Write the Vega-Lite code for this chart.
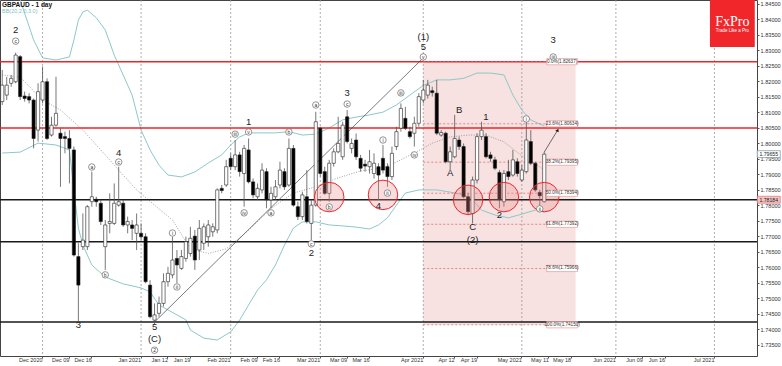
{
"$schema":"https://vega.github.io/schema/vega-lite/v6.json",
"width":757,"height":356,
"autosize":{"type":"none"},
"padding":{"left":0,"top":0,"right":25,"bottom":10},
"background":"white",
"title":{"text":"GBPAUD - 1 day","subtitle":"BB(20,2.0,3.0)","anchor":"start","frame":"group","orient":"top","offset":-15,"dx":2,"fontSize":6.5,"fontWeight":"bold","font":"Liberation Sans","color":"#111","subtitleFontSize":5.5,"subtitleColor":"#7fbfbf","subtitleFont":"Liberation Sans","subtitlePadding":1},
"config":{"view":{"stroke":"#444","strokeWidth":1},"font":"Liberation Sans","scale":{"bandPaddingInner":0,"bandPaddingOuter":0,"barBandPaddingInner":0,"rectBandPaddingInner":0},
 "axisY":{"labelOverlap":false,"labelBound":false,"labelFlush":false}},
"data":{"values":[{}]},
"datasets":{
"candles":[
{"d":"2020-11-18","o":1.8135,"h":1.8237,"l":1.8124,"c":1.8188},
{"d":"2020-11-19","o":1.8156,"h":1.8215,"l":1.8140,"c":1.8188},
{"d":"2020-11-20","o":1.8194,"h":1.8221,"l":1.8183,"c":1.8210},
{"d":"2020-11-23","o":1.8199,"h":1.8293,"l":1.8194,"c":1.8285},
{"d":"2020-11-24","o":1.8280,"h":1.8285,"l":1.8140,"c":1.8151},
{"d":"2020-11-25","o":1.8153,"h":1.8167,"l":1.8135,"c":1.8145},
{"d":"2020-11-26","o":1.8151,"h":1.8162,"l":1.8129,"c":1.8140},
{"d":"2020-11-27","o":1.8140,"h":1.8145,"l":1.7984,"c":1.8016},
{"d":"2020-11-30","o":1.8043,"h":1.8194,"l":1.8006,"c":1.8167},
{"d":"2020-12-01","o":1.8140,"h":1.8248,"l":1.8129,"c":1.8199},
{"d":"2020-12-02","o":1.8199,"h":1.8210,"l":1.8011,"c":1.8016},
{"d":"2020-12-03","o":1.8027,"h":1.8086,"l":1.8022,"c":1.8059},
{"d":"2020-12-04","o":1.8059,"h":1.8215,"l":1.8054,"c":1.8097},
{"d":"2020-12-07","o":1.8033,"h":1.8049,"l":1.7860,"c":1.8016},
{"d":"2020-12-08","o":1.8022,"h":1.8038,"l":1.7968,"c":1.8016},
{"d":"2020-12-09","o":1.8016,"h":1.8043,"l":1.7871,"c":1.7984},
{"d":"2020-12-10","o":1.7979,"h":1.7990,"l":1.7635,"c":1.7640},
{"d":"2020-12-11","o":1.7635,"h":1.7678,"l":1.7425,"c":1.7543},
{"d":"2020-12-14","o":1.7667,"h":1.7774,"l":1.7656,"c":1.7688},
{"d":"2020-12-15","o":1.7667,"h":1.7801,"l":1.7656,"c":1.7796},
{"d":"2020-12-16","o":1.7812,"h":1.7909,"l":1.7796,"c":1.7828},
{"d":"2020-12-17","o":1.7820,"h":1.7828,"l":1.7796,"c":1.7812},
{"d":"2020-12-18","o":1.7807,"h":1.7818,"l":1.7737,"c":1.7748},
{"d":"2020-12-21","o":1.7667,"h":1.7753,"l":1.7592,"c":1.7737},
{"d":"2020-12-22","o":1.7742,"h":1.7839,"l":1.7710,"c":1.7748},
{"d":"2020-12-23","o":1.7742,"h":1.7871,"l":1.7737,"c":1.7807},
{"d":"2020-12-24","o":1.7801,"h":1.7925,"l":1.7796,"c":1.7812},
{"d":"2020-12-28","o":1.7807,"h":1.7818,"l":1.7731,"c":1.7737},
{"d":"2020-12-29","o":1.7737,"h":1.7764,"l":1.7710,"c":1.7748},
{"d":"2020-12-30","o":1.7737,"h":1.7753,"l":1.7688,"c":1.7726},
{"d":"2020-12-31","o":1.7710,"h":1.7774,"l":1.7656,"c":1.7737},
{"d":"2021-01-04","o":1.7710,"h":1.7742,"l":1.7688,"c":1.7699},
{"d":"2021-01-05","o":1.7699,"h":1.7710,"l":1.7549,"c":1.7554},
{"d":"2021-01-06","o":1.7543,"h":1.7559,"l":1.7436,"c":1.7441},
{"d":"2021-01-07","o":1.7430,"h":1.7484,"l":1.7415,"c":1.7447},
{"d":"2021-01-08","o":1.7452,"h":1.7506,"l":1.7441,"c":1.7484},
{"d":"2021-01-11","o":1.7484,"h":1.7581,"l":1.7474,"c":1.7554},
{"d":"2021-01-12","o":1.7554,"h":1.7602,"l":1.7538,"c":1.7581},
{"d":"2021-01-13","o":1.7576,"h":1.7699,"l":1.7565,"c":1.7624},
{"d":"2021-01-14","o":1.7629,"h":1.7656,"l":1.7549,"c":1.7608},
{"d":"2021-01-15","o":1.7597,"h":1.7656,"l":1.7592,"c":1.7635},
{"d":"2021-01-18","o":1.7629,"h":1.7699,"l":1.7619,"c":1.7683},
{"d":"2021-01-19","o":1.7645,"h":1.7731,"l":1.7635,"c":1.7694},
{"d":"2021-01-20","o":1.7701,"h":1.7721,"l":1.7592,"c":1.7624},
{"d":"2021-01-21","o":1.7656,"h":1.7753,"l":1.7624,"c":1.7726},
{"d":"2021-01-22","o":1.7678,"h":1.7742,"l":1.7656,"c":1.7731},
{"d":"2021-01-25","o":1.7699,"h":1.7753,"l":1.7667,"c":1.7737},
{"d":"2021-01-26","o":1.7715,"h":1.7742,"l":1.7699,"c":1.7731},
{"d":"2021-01-27","o":1.7721,"h":1.7855,"l":1.7710,"c":1.7850},
{"d":"2021-01-28","o":1.7855,"h":1.7866,"l":1.7839,"c":1.7848},
{"d":"2021-01-29","o":1.7866,"h":1.7947,"l":1.7860,"c":1.7925},
{"d":"2021-02-01","o":1.7952,"h":1.7968,"l":1.7914,"c":1.7925},
{"d":"2021-02-02","o":1.7925,"h":1.8011,"l":1.7914,"c":1.7963},
{"d":"2021-02-03","o":1.7963,"h":1.7973,"l":1.7893,"c":1.7909},
{"d":"2021-02-04","o":1.7903,"h":1.7995,"l":1.7796,"c":1.7984},
{"d":"2021-02-05","o":1.7979,"h":1.8016,"l":1.7871,"c":1.7876},
{"d":"2021-02-08","o":1.7876,"h":1.7887,"l":1.7823,"c":1.7834},
{"d":"2021-02-09","o":1.7828,"h":1.7871,"l":1.7818,"c":1.7855},
{"d":"2021-02-10","o":1.7850,"h":1.7936,"l":1.7839,"c":1.7914},
{"d":"2021-02-11","o":1.7909,"h":1.7920,"l":1.7791,"c":1.7818},
{"d":"2021-02-12","o":1.7818,"h":1.7860,"l":1.7791,"c":1.7839},
{"d":"2021-02-15","o":1.7828,"h":1.7882,"l":1.7818,"c":1.7860},
{"d":"2021-02-16","o":1.7866,"h":1.7941,"l":1.7855,"c":1.7914},
{"d":"2021-02-17","o":1.7909,"h":1.7920,"l":1.7850,"c":1.7860},
{"d":"2021-02-18","o":1.7866,"h":1.8016,"l":1.7860,"c":1.7984},
{"d":"2021-02-19","o":1.7984,"h":1.7995,"l":1.7796,"c":1.7801},
{"d":"2021-02-22","o":1.7796,"h":1.7812,"l":1.7753,"c":1.7764},
{"d":"2021-02-23","o":1.7764,"h":1.7844,"l":1.7753,"c":1.7834},
{"d":"2021-02-24","o":1.7828,"h":1.7914,"l":1.7742,"c":1.7748},
{"d":"2021-02-25","o":1.7742,"h":1.7818,"l":1.7688,"c":1.7801},
{"d":"2021-02-26","o":1.7801,"h":1.8102,"l":1.7796,"c":1.8070},
{"d":"2021-03-01","o":1.8049,"h":1.8054,"l":1.7893,"c":1.7903},
{"d":"2021-03-02","o":1.7909,"h":1.7925,"l":1.7834,"c":1.7839},
{"d":"2021-03-03","o":1.7839,"h":1.7947,"l":1.7812,"c":1.7936},
{"d":"2021-03-04","o":1.7936,"h":1.7984,"l":1.7925,"c":1.7973},
{"d":"2021-03-05","o":1.7973,"h":1.8086,"l":1.7968,"c":1.8000},
{"d":"2021-03-08","o":1.7957,"h":1.8070,"l":1.7947,"c":1.8059},
{"d":"2021-03-09","o":1.8086,"h":1.8108,"l":1.8000,"c":1.8006},
{"d":"2021-03-10","o":1.7984,"h":1.8016,"l":1.7968,"c":1.8000},
{"d":"2021-03-11","o":1.8011,"h":1.8032,"l":1.7947,"c":1.7957},
{"d":"2021-03-12","o":1.7952,"h":1.7963,"l":1.7909,"c":1.7920},
{"d":"2021-03-15","o":1.7933,"h":1.7947,"l":1.7909,"c":1.7927},
{"d":"2021-03-16","o":1.7925,"h":1.7979,"l":1.7903,"c":1.7941},
{"d":"2021-03-17","o":1.7903,"h":1.7968,"l":1.7887,"c":1.7936},
{"d":"2021-03-18","o":1.7925,"h":1.7936,"l":1.7818,"c":1.7898},
{"d":"2021-03-19","o":1.7952,"h":1.7995,"l":1.7903,"c":1.7914},
{"d":"2021-03-22","o":1.7925,"h":1.7936,"l":1.7860,"c":1.7893},
{"d":"2021-03-23","o":1.7893,"h":1.7990,"l":1.7882,"c":1.7968},
{"d":"2021-03-24","o":1.7990,"h":1.8054,"l":1.7979,"c":1.8038},
{"d":"2021-03-25","o":1.8049,"h":1.8129,"l":1.8038,"c":1.8113},
{"d":"2021-03-26","o":1.8081,"h":1.8118,"l":1.8043,"c":1.8049},
{"d":"2021-03-29","o":1.8038,"h":1.8054,"l":1.8016,"c":1.8022},
{"d":"2021-03-30","o":1.8033,"h":1.8086,"l":1.7990,"c":1.8065},
{"d":"2021-03-31","o":1.8065,"h":1.8162,"l":1.8054,"c":1.8151},
{"d":"2021-04-01","o":1.8140,"h":1.8205,"l":1.8129,"c":1.8172},
{"d":"2021-04-02","o":1.8156,"h":1.8205,"l":1.8145,"c":1.8188},
{"d":"2021-04-05","o":1.8170,"h":1.8183,"l":1.8151,"c":1.8164},
{"d":"2021-04-06","o":1.8162,"h":1.8205,"l":1.8027,"c":1.8033},
{"d":"2021-04-07","o":1.8027,"h":1.8043,"l":1.8022,"c":1.8035},
{"d":"2021-04-08","o":1.8033,"h":1.8038,"l":1.7936,"c":1.7941},
{"d":"2021-04-09","o":1.7941,"h":1.7990,"l":1.7914,"c":1.7973},
{"d":"2021-04-12","o":1.7957,"h":1.8092,"l":1.7952,"c":1.8016},
{"d":"2021-04-13","o":1.8011,"h":1.8022,"l":1.7979,"c":1.7990},
{"d":"2021-04-14","o":1.7990,"h":1.8000,"l":1.7823,"c":1.7828},
{"d":"2021-04-15","o":1.7828,"h":1.7839,"l":1.7769,"c":1.7780},
{"d":"2021-04-16","o":1.7774,"h":1.7893,"l":1.7742,"c":1.7882},
{"d":"2021-04-19","o":1.7882,"h":1.8033,"l":1.7871,"c":1.8022},
{"d":"2021-04-20","o":1.8022,"h":1.8070,"l":1.8011,"c":1.8043},
{"d":"2021-04-21","o":1.8022,"h":1.8033,"l":1.7952,"c":1.7957},
{"d":"2021-04-22","o":1.7963,"h":1.7973,"l":1.7941,"c":1.7952},
{"d":"2021-04-23","o":1.7947,"h":1.7957,"l":1.7914,"c":1.7920},
{"d":"2021-04-26","o":1.7906,"h":1.7914,"l":1.7791,"c":1.7818},
{"d":"2021-04-27","o":1.7812,"h":1.7914,"l":1.7796,"c":1.7903},
{"d":"2021-04-28","o":1.7909,"h":1.7947,"l":1.7882,"c":1.7893},
{"d":"2021-04-29","o":1.7898,"h":1.7979,"l":1.7893,"c":1.7947},
{"d":"2021-04-30","o":1.7941,"h":1.7952,"l":1.7893,"c":1.7903},
{"d":"2021-05-03","o":1.7882,"h":1.7930,"l":1.7876,"c":1.7914},
{"d":"2021-05-04","o":1.7909,"h":1.8076,"l":1.7903,"c":1.8011},
{"d":"2021-05-05","o":1.8006,"h":1.8043,"l":1.7930,"c":1.7936},
{"d":"2021-05-06","o":1.7936,"h":1.7941,"l":1.7844,"c":1.7850},
{"d":"2021-05-07","o":1.7842,"h":1.7850,"l":1.7791,"c":1.7831},
{"d":"2021-05-10","o":1.7812,"h":1.7973,"l":1.7809,"c":1.79655}
],
"bbu":[
{"d":"2020-11-18","v":1.8511},{"d":"2020-11-24","v":1.8463},{"d":"2020-11-27","v":1.8334},{"d":"2020-12-01","v":1.8276},{"d":"2020-12-04","v":1.8269},{"d":"2020-12-09","v":1.8279},{"d":"2020-12-10","v":1.8334},{"d":"2020-12-11","v":1.8398},{"d":"2020-12-14","v":1.8424},{"d":"2020-12-15","v":1.8430},{"d":"2020-12-17","v":1.8405},{"d":"2020-12-21","v":1.8366},{"d":"2020-12-23","v":1.8285},{"d":"2020-12-28","v":1.8221},{"d":"2020-12-30","v":1.8156},{"d":"2021-01-04","v":1.8043},{"d":"2021-01-06","v":1.7979},{"d":"2021-01-08","v":1.7930},{"d":"2021-01-12","v":1.7898},{"d":"2021-01-15","v":1.7892},{"d":"2021-01-20","v":1.7908},{"d":"2021-01-25","v":1.7937},{"d":"2021-01-28","v":1.7963},{"d":"2021-02-01","v":1.7995},{"d":"2021-02-03","v":1.8021},{"d":"2021-02-05","v":1.8034},{"d":"2021-02-10","v":1.8034},{"d":"2021-02-15","v":1.8034},{"d":"2021-02-18","v":1.8038},{"d":"2021-02-23","v":1.8027},{"d":"2021-02-26","v":1.8030},{"d":"2021-03-03","v":1.8050},{"d":"2021-03-08","v":1.8076},{"d":"2021-03-11","v":1.8085},{"d":"2021-03-16","v":1.8092},{"d":"2021-03-19","v":1.8101},{"d":"2021-03-24","v":1.8124},{"d":"2021-03-29","v":1.8156},{"d":"2021-04-01","v":1.8187},{"d":"2021-04-06","v":1.8205},{"d":"2021-04-09","v":1.8205},{"d":"2021-04-14","v":1.8210},{"d":"2021-04-19","v":1.8227},{"d":"2021-04-22","v":1.8227},{"d":"2021-04-27","v":1.8221},{"d":"2021-04-29","v":1.8156},{"d":"2021-05-03","v":1.8108},{"d":"2021-05-05","v":1.8076},{"d":"2021-05-10","v":1.8056}
],
"bbm":[
{"d":"2020-11-18","v":1.8221},{"d":"2020-11-24","v":1.8214},{"d":"2020-12-01","v":1.8140},{"d":"2020-12-07","v":1.8108},{"d":"2020-12-14","v":1.8043},{"d":"2020-12-18","v":1.7979},{"d":"2020-12-24","v":1.7914},{"d":"2020-12-31","v":1.7850},{"d":"2021-01-07","v":1.7801},{"d":"2021-01-13","v":1.7753},{"d":"2021-01-19","v":1.7660},{"d":"2021-01-25","v":1.7645},{"d":"2021-01-29","v":1.7660},{"d":"2021-02-05","v":1.7720},{"d":"2021-02-12","v":1.7790},{"d":"2021-02-19","v":1.7840},{"d":"2021-02-26","v":1.7860},{"d":"2021-03-05","v":1.7889},{"d":"2021-03-12","v":1.7911},{"d":"2021-03-19","v":1.7921},{"d":"2021-03-24","v":1.7940},{"d":"2021-03-30","v":1.7969},{"d":"2021-04-05","v":1.8001},{"d":"2021-04-09","v":1.8021},{"d":"2021-04-15","v":1.8027},{"d":"2021-04-21","v":1.8027},{"d":"2021-04-27","v":1.8005},{"d":"2021-05-03","v":1.7960},{"d":"2021-05-06","v":1.7935},{"d":"2021-05-10","v":1.7914}
],
"bbl":[
{"d":"2020-11-18","v":1.7969},{"d":"2020-11-24","v":1.7972},{"d":"2020-11-30","v":1.8001},{"d":"2020-12-04","v":1.7995},{"d":"2020-12-09","v":1.7979},{"d":"2020-12-10","v":1.7850},{"d":"2020-12-11","v":1.7727},{"d":"2020-12-14","v":1.7672},{"d":"2020-12-16","v":1.7608},{"d":"2020-12-21","v":1.7569},{"d":"2020-12-28","v":1.7547},{"d":"2021-01-04","v":1.7534},{"d":"2021-01-06","v":1.7521},{"d":"2021-01-08","v":1.7479},{"d":"2021-01-12","v":1.7463},{"d":"2021-01-18","v":1.7431},{"d":"2021-01-19","v":1.7398},{"d":"2021-01-22","v":1.7372},{"d":"2021-01-27","v":1.7366},{"d":"2021-02-01","v":1.7392},{"d":"2021-02-03","v":1.7430},{"d":"2021-02-05","v":1.7479},{"d":"2021-02-09","v":1.7527},{"d":"2021-02-11","v":1.7560},{"d":"2021-02-15","v":1.7608},{"d":"2021-02-17","v":1.7672},{"d":"2021-02-19","v":1.7727},{"d":"2021-02-23","v":1.7747},{"d":"2021-02-26","v":1.7747},{"d":"2021-03-03","v":1.7737},{"d":"2021-03-08","v":1.7734},{"d":"2021-03-11","v":1.7730},{"d":"2021-03-16","v":1.7724},{"d":"2021-03-18","v":1.7737},{"d":"2021-03-22","v":1.7760},{"d":"2021-03-24","v":1.7801},{"d":"2021-03-26","v":1.7840},{"d":"2021-03-31","v":1.7850},{"d":"2021-04-06","v":1.7850},{"d":"2021-04-09","v":1.7843},{"d":"2021-04-14","v":1.7834},{"d":"2021-04-16","v":1.7818},{"d":"2021-04-20","v":1.7785},{"d":"2021-04-23","v":1.7769},{"d":"2021-04-28","v":1.7760},{"d":"2021-05-03","v":1.7772},{"d":"2021-05-06","v":1.7785},{"d":"2021-05-10","v":1.7779}
],
"months":[{"d":"2020-12-01"},{"d":"2021-01-04"},{"d":"2021-02-01"},{"d":"2021-03-01"},{"d":"2021-04-01"},{"d":"2021-05-03"},{"d":"2021-06-01"},{"d":"2021-07-01"}],
"levels":[{"v":1.82637,"k":"resistance"},{"v":1.8050,"k":"resistance"},{"v":1.78184,"k":"support"},{"v":1.7683,"k":"support"},{"v":1.7424,"k":"support"}],
"fib":[{"v":1.82637,"t":"0.0%(1.82637)"},{"v":1.80634,"t":"23.6%(1.80634)"},{"v":1.79395,"t":"38.2%(1.79395)"},{"v":1.78394,"t":"50.0%(1.78394)"},{"v":1.77392,"t":"61.8%(1.77392)"},{"v":1.75966,"t":"78.6%(1.75966)"},{"v":1.74150,"t":"100.0%(1.74150)"}],
"trend":[{"d":"2021-01-07","v":1.7424},{"d":"2021-04-01","v":1.8276}],
"arrow":[{"d":"2021-05-10","v":1.7972},{"d":"2021-05-13","v":1.8043}],
"hl":[{"d":"2021-03-03","v":1.7827},{"d":"2021-03-19","v":1.7834},{"d":"2021-04-15","v":1.7818},{"d":"2021-04-27","v":1.7827},{"d":"2021-05-10","v":1.7827}],
"waves":[
{"d":"2020-11-23","v":1.8366,"t":"2"},{"d":"2020-12-24","v":1.7969,"t":"4"},{"d":"2020-12-11","v":1.7414,"t":"3"},{"d":"2021-01-07","v":1.7408,"t":"5"},{"d":"2021-01-07","v":1.7369,"t":"(C)"},{"d":"2021-02-05","v":1.8069,"t":"1"},{"d":"2021-02-25","v":1.7647,"t":"2"},{"d":"2021-03-09","v":1.8163,"t":"3"},{"d":"2021-03-18","v":1.7798,"t":"4"},{"d":"2021-04-01","v":1.8343,"t":"(1)"},{"d":"2021-04-01","v":1.8311,"t":"5"},{"d":"2021-04-13","v":1.8108,"t":"B"},{"d":"2021-04-09","v":1.7905,"t":"A"},{"d":"2021-04-21","v":1.8085,"t":"1"},{"d":"2021-04-16","v":1.7730,"t":"C"},{"d":"2021-04-16","v":1.7690,"t":"(2)"},{"d":"2021-04-26","v":1.7769,"t":"2"},{"d":"2021-05-12","v":1.8334,"t":"3"}
],
"circ":[
{"d":"2020-11-23","v":1.8330,"t":"c"},{"d":"2020-12-16","v":1.7924,"t":"a"},{"d":"2020-12-21","v":1.7576,"t":"b"},{"d":"2020-12-24","v":1.7940,"t":"c"},{"d":"2021-01-13","v":1.7711,"t":"i"},{"d":"2021-01-14","v":1.7537,"t":"ii"},{"d":"2021-02-02","v":1.8030,"t":"iii"},{"d":"2021-02-04","v":1.7776,"t":"iv"},{"d":"2021-02-05","v":1.8037,"t":"v"},{"d":"2021-02-12","v":1.7776,"t":"a"},{"d":"2021-02-18","v":1.8037,"t":"b"},{"d":"2021-02-25","v":1.7676,"t":"c"},{"d":"2021-02-26","v":1.8124,"t":"a"},{"d":"2021-03-03","v":1.7795,"t":"b"},{"d":"2021-03-09","v":1.8127,"t":"c"},{"d":"2021-03-19","v":1.8011,"t":"i"},{"d":"2021-03-22","v":1.7840,"t":"ii"},{"d":"2021-03-25","v":1.8163,"t":"iii"},{"d":"2021-03-30","v":1.7963,"t":"iv"},{"d":"2021-04-01","v":1.8279,"t":"v"},{"d":"2021-05-04","v":1.8079,"t":"i"},{"d":"2021-05-07","v":1.7789,"t":"ii"},{"d":"2021-05-12","v":1.8279,"t":"iii"},{"d":"2021-01-07","v":1.7333,"t":"2"}
],
"tags":[{"v":1.79655,"t":"1.79655","k":"bid"},{"v":1.78184,"t":"1.78184","k":"level"}]
},
"layer":[
{"mark":{"type":"rect","color":"#f5d9d9","opacity":0.8},
 "encoding":{
  "x":{"datum":"2021-04-01","type":"ordinal","bandPosition":0.5},
  "x2":{"datum":"2021-05-19"},
  "y":{"datum":1.82637,"type":"quantitative","scale":{"domain":[1.73143,1.84627],"nice":false,"zero":false},
   "axis":{"orient":"right","title":null,"grid":false,"domain":false,"format":".5f","labelFontSize":5.6,"labelColor":"#333","tickSize":2,"tickColor":"#555","labelPadding":1,"labelFont":"Liberation Sans","labelOverlap":false,"labelBound":false,"labelFlush":false,"tickCount":23,
    "values":[1.735,1.74,1.745,1.75,1.755,1.76,1.765,1.77,1.775,1.78,1.785,1.79,1.795,1.8,1.805,1.81,1.815,1.82,1.825,1.83,1.835,1.84,1.845]}},
  "y2":{"datum":1.7415}}},
{"data":{"name":"months"},"mark":{"type":"rule","color":"#9a9a9a","strokeDash":[2,2],"strokeWidth":0.8},
 "encoding":{"x":{"field":"d","type":"ordinal","scale":{"type":"band","domain":["2020-11-18","2020-11-19","2020-11-20","2020-11-23","2020-11-24","2020-11-25","2020-11-26","2020-11-27","2020-11-30","2020-12-01","2020-12-02","2020-12-03","2020-12-04","2020-12-07","2020-12-08","2020-12-09","2020-12-10","2020-12-11","2020-12-14","2020-12-15","2020-12-16","2020-12-17","2020-12-18","2020-12-21","2020-12-22","2020-12-23","2020-12-24","2020-12-28","2020-12-29","2020-12-30","2020-12-31","2021-01-04","2021-01-05","2021-01-06","2021-01-07","2021-01-08","2021-01-11","2021-01-12","2021-01-13","2021-01-14","2021-01-15","2021-01-18","2021-01-19","2021-01-20","2021-01-21","2021-01-22","2021-01-25","2021-01-26","2021-01-27","2021-01-28","2021-01-29","2021-02-01","2021-02-02","2021-02-03","2021-02-04","2021-02-05","2021-02-08","2021-02-09","2021-02-10","2021-02-11","2021-02-12","2021-02-15","2021-02-16","2021-02-17","2021-02-18","2021-02-19","2021-02-22","2021-02-23","2021-02-24","2021-02-25","2021-02-26","2021-03-01","2021-03-02","2021-03-03","2021-03-04","2021-03-05","2021-03-08","2021-03-09","2021-03-10","2021-03-11","2021-03-12","2021-03-15","2021-03-16","2021-03-17","2021-03-18","2021-03-19","2021-03-22","2021-03-23","2021-03-24","2021-03-25","2021-03-26","2021-03-29","2021-03-30","2021-03-31","2021-04-01","2021-04-02","2021-04-05","2021-04-06","2021-04-07","2021-04-08","2021-04-09","2021-04-12","2021-04-13","2021-04-14","2021-04-15","2021-04-16","2021-04-19","2021-04-20","2021-04-21","2021-04-22","2021-04-23","2021-04-26","2021-04-27","2021-04-28","2021-04-29","2021-04-30","2021-05-03","2021-05-04","2021-05-05","2021-05-06","2021-05-07","2021-05-10","2021-05-11","2021-05-12","2021-05-13","2021-05-14","2021-05-17","2021-05-18","2021-05-19","2021-05-20","2021-05-21","2021-05-24","2021-05-25","2021-05-26","2021-05-27","2021-05-28","2021-05-31","2021-06-01","2021-06-02","2021-06-03","2021-06-04","2021-06-07","2021-06-08","2021-06-09","2021-06-10","2021-06-11","2021-06-14","2021-06-15","2021-06-16","2021-06-17","2021-06-18","2021-06-21","2021-06-22","2021-06-23","2021-06-24","2021-06-25","2021-06-28","2021-06-29","2021-06-30","2021-07-01","2021-07-02","2021-07-05","2021-07-06","2021-07-07","2021-07-08","2021-07-09","2021-07-12","2021-07-13","2021-07-14"]},
  "axis":{"orient":"bottom","title":null,"grid":false,"domain":false,"labelAngle":0,"labelFontSize":5.5,"labelColor":"#333","tickSize":2,"tickColor":"#555","labelPadding":1,"labelFont":"Liberation Sans","labelOverlap":false,
   "values":["2020-12-01","2020-12-09","2020-12-16","2021-01-04","2021-01-12","2021-01-19","2021-02-01","2021-02-09","2021-02-16","2021-03-01","2021-03-09","2021-03-16","2021-04-01","2021-04-12","2021-04-19","2021-05-03","2021-05-11","2021-05-18","2021-06-01","2021-06-09","2021-06-16","2021-07-01"],
   "labelExpr":"utcdate(toDate(datum.value)) <= 4 ? utcFormat(toDate(datum.value), '%b %Y') : utcFormat(toDate(datum.value), '%b %d')"}}}},
{"data":{"name":"bbu"},"mark":{"type":"line","color":"#8cc8c8","strokeWidth":1,"clip":true},
 "encoding":{"x":{"field":"d","type":"ordinal"},"y":{"field":"v","type":"quantitative"}}},
{"data":{"name":"bbl"},"mark":{"type":"line","color":"#8cc8c8","strokeWidth":1,"clip":true},
 "encoding":{"x":{"field":"d","type":"ordinal"},"y":{"field":"v","type":"quantitative"}}},
{"data":{"name":"bbm"},"mark":{"type":"line","color":"#8a8a8a","strokeWidth":0.8,"strokeDash":[1,1.5],"clip":true},
 "encoding":{"x":{"field":"d","type":"ordinal"},"y":{"field":"v","type":"quantitative"}}},
{"data":{"name":"levels"},"mark":{"type":"rule","strokeWidth":1.6},
 "encoding":{"y":{"field":"v","type":"quantitative"},
  "color":{"field":"k","type":"nominal","scale":{"domain":["resistance","support"],"range":["#e8262b","#1a1a1a"]},"legend":null}}},
{"data":{"name":"fib"},"mark":{"type":"rule","color":"#e07070","strokeWidth":0.8,"strokeDash":[2,2]},
 "encoding":{"x":{"datum":"2021-04-01","type":"ordinal"},"x2":{"datum":"2021-05-13"},"y":{"field":"v","type":"quantitative"}}},
{"data":{"name":"trend"},"mark":{"type":"line","color":"#444","strokeWidth":0.7},
 "encoding":{"x":{"field":"d","type":"ordinal"},"y":{"field":"v","type":"quantitative"}}},
{"data":{"name":"candles"},"mark":{"type":"rule","color":"#555","strokeWidth":0.8},
 "encoding":{"x":{"field":"d","type":"ordinal"},"y":{"field":"l","type":"quantitative"},"y2":{"field":"h"}}},
{"data":{"name":"candles"},"mark":{"type":"bar","width":3.2,"stroke":"#222","strokeWidth":0.6},
 "encoding":{"x":{"field":"d","type":"ordinal"},"y":{"field":"o","type":"quantitative","scale":{"zero":false}},"y2":{"field":"c"},
  "fill":{"condition":{"test":"datum.c >= datum.o","value":"#ffffff"},"value":"#000000"}}},
{"data":{"name":"hl"},"mark":{"type":"point","shape":"circle","size":870,"filled":true,"fill":"#f08a8a","fillOpacity":0.3,"stroke":"#e8262b","strokeWidth":1,"strokeOpacity":1},
 "encoding":{"x":{"field":"d","type":"ordinal"},"y":{"field":"v","type":"quantitative"}}},
{"data":{"name":"arrow"},"mark":{"type":"line","color":"#333","strokeWidth":0.7},
 "encoding":{"x":{"field":"d","type":"ordinal"},"y":{"field":"v","type":"quantitative"}}},
{"data":{"name":"arrow"},"transform":[{"filter":"datum.d == '2021-05-13'"}],"mark":{"type":"point","shape":"triangle-up","angle":25,"size":14,"filled":true,"color":"#111","opacity":1},
 "encoding":{"x":{"field":"d","type":"ordinal"},"y":{"field":"v","type":"quantitative"}}},
{"data":{"name":"fib"},"mark":{"type":"point","shape":"M-1,-0.2L1,-0.2L1,0.2L-1,0.2Z","size":961,"filled":true,"fill":"#ffffff","stroke":"#e59a9a","strokeWidth":0.7,"opacity":1},
 "encoding":{"x":{"datum":"2021-05-14","type":"ordinal"},"y":{"field":"v","type":"quantitative"}}},
{"data":{"name":"fib"},"mark":{"type":"text","fontSize":4.6,"color":"#333","align":"center","baseline":"middle"},
 "encoding":{"x":{"datum":"2021-05-14","type":"ordinal"},"y":{"field":"v","type":"quantitative"},"text":{"field":"t"}}},
{"data":{"name":"waves"},"mark":{"type":"text","fontSize":9.5,"color":"#222","align":"center","baseline":"middle"},
 "encoding":{"x":{"field":"d","type":"ordinal"},"y":{"field":"v","type":"quantitative"},"text":{"field":"t"}}},
{"data":{"name":"circ"},"mark":{"type":"point","shape":"circle","size":42,"filled":true,"fill":"#ffffff","stroke":"#666","strokeWidth":0.7,"opacity":1},
 "encoding":{"x":{"field":"d","type":"ordinal"},"y":{"field":"v","type":"quantitative"}}},
{"data":{"name":"circ"},"mark":{"type":"text","fontSize":5,"color":"#333","align":"center","baseline":"middle"},
 "encoding":{"x":{"field":"d","type":"ordinal"},"y":{"field":"v","type":"quantitative"},"text":{"field":"t"}}},
{"mark":{"type":"rect","color":"#f0262b"},
 "encoding":{"x":{"datum":"2021-06-30","type":"ordinal"},"x2":{"datum":"2021-07-14"},"y":{"datum":1.84627,"type":"quantitative"},"y2":{"datum":1.8311}}},
{"mark":{"type":"text","text":"FxPro","font":"Liberation Serif","fontSize":14,"color":"#ffffff","align":"center","baseline":"middle"},
 "encoding":{"x":{"datum":"2021-07-07","type":"ordinal"},"y":{"datum":1.8392,"type":"quantitative"}}},
{"mark":{"type":"text","text":"Trade Like a Pro","fontSize":4.5,"color":"#ffffff","align":"center","baseline":"middle"},
 "encoding":{"x":{"datum":"2021-07-07","type":"ordinal"},"y":{"datum":1.8363,"type":"quantitative"}}},
{"data":{"name":"tags"},"mark":{"type":"point","shape":"M-1,-0.3L1,-0.3L1,0.3L-1,0.3Z","size":529,"filled":true,"xOffset":14,"strokeWidth":0.7,"opacity":1},
 "encoding":{"x":{"datum":"2021-07-14","type":"ordinal"},"y":{"field":"v","type":"quantitative"},
  "fill":{"field":"k","type":"nominal","scale":{"domain":["bid","level"],"range":["#ffffff","#f4c4c4"]},"legend":null},
  "stroke":{"field":"k","type":"nominal","scale":{"domain":["bid","level"],"range":["#7a8fa0","#e07070"]},"legend":null}}},
{"data":{"name":"tags"},"mark":{"type":"text","fontSize":5.2,"dx":14,"align":"center","baseline":"middle","color":"#222"},
 "encoding":{"x":{"datum":"2021-07-14","type":"ordinal"},"y":{"field":"v","type":"quantitative"},"text":{"field":"t"}}}
]
}
